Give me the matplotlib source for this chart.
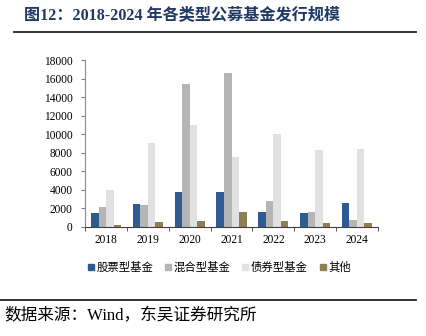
import numpy as np
import matplotlib
matplotlib.use('Agg')
import matplotlib.pyplot as plt
from matplotlib.lines import Line2D

plt.rcParams['font.family'] = ['Liberation Serif', 'Noto Sans CJK SC', 'DejaVu Sans']

# 数据（亿元，读图估计）
years = ['2018', '2019', '2020', '2021', '2022', '2023', '2024']
stock = [1440, 2450, 3800, 3740, 1650, 1470, 2550]
mixed = [2100, 2370, 15470, 16650, 2840, 1580, 750]
bond = [4000, 9100, 11040, 7520, 10000, 8270, 8380]
other = [180, 500, 650, 1620, 610, 430, 400]
series_names = ['股票型基金', '混合型基金', '债券型基金', '其他']
colors = ['#2f5b93', '#b5b5b5', '#e1e1e1', '#8c8050']
yticks = list(range(0, 18001, 2000))

fig = plt.figure(figsize=(4.26, 3.36), dpi=100)
ax = fig.add_axes([0.2, 0.325, 0.687, 0.496])

x = np.arange(len(years))
w = 0.18
for i, (vals, c) in enumerate(zip([stock, mixed, bond, other], colors)):
    ax.bar(x + (i - 1.5) * w, vals, width=w, color=c, label=series_names[i], zorder=2)

ax.set_xlim(-0.5, len(years) - 0.5)
ax.set_ylim(0, 18000)
ax.set_yticks(yticks)
ax.set_yticklabels([str(v) for v in yticks], fontsize=8.3, family='Liberation Serif')
ax.set_xticks(x)
ax.set_xticklabels(years, fontsize=8.3, family='Liberation Serif')
ax.set_xticks(np.arange(-0.5, len(years)), minor=True)
ax.tick_params(axis='x', which='major', length=0, pad=5)
ax.tick_params(axis='x', which='minor', length=3, direction='out', color='#404040')
ax.tick_params(axis='y', length=3, direction='out', color='#808080', pad=6)
for s in ['top', 'right']:
    ax.spines[s].set_visible(False)
ax.spines['left'].set_color('#8c8c8c')
ax.spines['bottom'].set_color('#404040')

handles = [Line2D([], [], marker='s', linestyle='', markersize=4.5, color=c) for c in colors]
fig.legend(handles, series_names, loc='center', bbox_to_anchor=(0.513, 0.205), ncol=4,
           frameon=False, handletextpad=0.1, columnspacing=0.9, handlelength=0.8,
           prop={'family': ['Noto Sans CJK SC'], 'size': 8.2, 'weight': 'light'})

fig.text(0.057, 0.955, '图12：2018-2024 年各类型公募基金发行规模', fontsize=11.6,
         fontweight='bold', color='#1f3864', va='center',
         family=['Liberation Serif', 'Noto Sans CJK SC'])
fig.add_artist(Line2D([0.033, 0.977], [0.906, 0.906], color='#222222', lw=1.3))
fig.add_artist(Line2D([0.0, 0.977], [0.107, 0.107], color='#222222', lw=1.3))
fig.text(0.01, 0.058, '数据来源：Wind，东吴证券研究所', fontsize=12, va='center',
         family=['Liberation Serif', 'Noto Sans CJK SC'])

fig.savefig('out.png', dpi=100)
